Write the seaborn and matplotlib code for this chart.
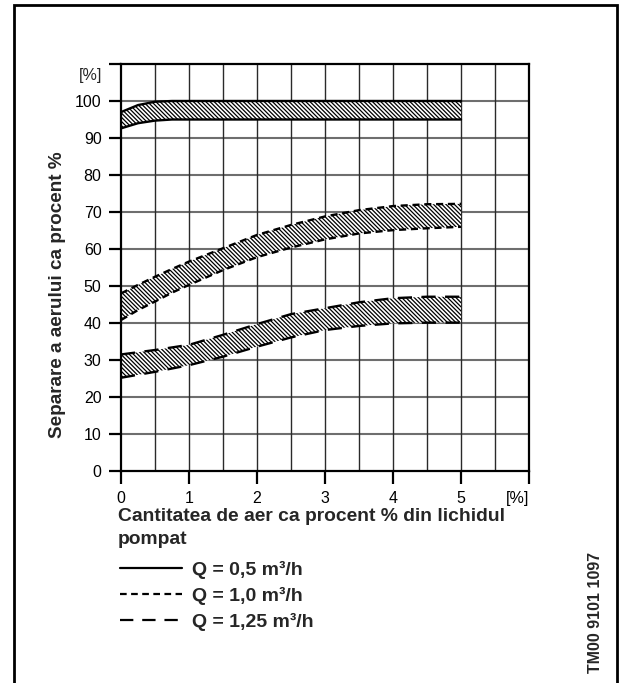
import matplotlib
matplotlib.use("Agg")
import matplotlib.pyplot as plt
import matplotlib.transforms as mtransforms
from matplotlib.lines import Line2D
from matplotlib.patches import Rectangle
import seaborn as sns
import pandas as pd

# ---- data ----
air_pct = [0, 0.25, 0.5, 0.75, 1.0, 1.5, 2.0, 2.5, 3.0, 3.5, 4.0, 4.5, 5.0]

q05_upper = [97.0, 98.9, 99.8, 100, 100, 100, 100, 100, 100, 100, 100, 100, 100]
q05_lower = [92.6, 94.0, 94.7, 95.0, 95, 95, 95, 95, 95, 95, 95, 95, 95]

q10_upper = [48.0, 50.3, 52.5, 54.6, 56.6, 60.2, 63.8, 66.5, 68.8, 70.5, 71.6, 72.1, 72.2]
q10_lower = [40.8, 43.5, 45.8, 48.2, 50.3, 54.3, 57.8, 60.4, 62.6, 64.2, 65.1, 65.6, 66.0]

q125_upper = [31.5, 32.1, 32.7, 33.4, 34.1, 36.8, 39.7, 42.4, 44.0, 45.6, 46.7, 47.1, 47.1]
q125_lower = [25.2, 26.0, 26.8, 27.7, 28.6, 30.9, 33.6, 36.1, 38.1, 39.2, 39.9, 40.1, 40.1]

series_labels = ["Q = 0,5 m³/h", "Q = 1,0 m³/h", "Q = 1,25 m³/h"]
x_tick_labels = ["0", "1", "2", "3", "4", "5", "[%]"]
y_tick_labels = ["0", "10", "20", "30", "40", "50", "60", "70", "80", "90", "100", ""]

xlabel_text = "Cantitatea de aer ca procent % din lichidul\npompat"
ylabel_text = "Separare a aerului ca procent %"
code_text = "TM00 9101 1097"

# ---- build long table ----
bands = [
    (series_labels[0], q05_upper, q05_lower),
    (series_labels[1], q10_upper, q10_lower),
    (series_labels[2], q125_upper, q125_lower),
]
rows = []
for label, up, lo in bands:
    for x, y in zip(air_pct, up):
        rows.append({"x": x, "y": y, "Q": label, "edge": label + " upper"})
    for x, y in zip(air_pct, lo):
        rows.append({"x": x, "y": y, "Q": label, "edge": label + " lower"})
df = pd.DataFrame(rows)

# ---- style ----
sns.set_style("white")
plt.rcParams["font.family"] = ["Liberation Sans", "DejaVu Sans"]
plt.rcParams["hatch.linewidth"] = 0.9
plt.rcParams["hatch.color"] = "black"

fig = plt.figure(figsize=(6.19, 6.83), dpi=100)
W, H = 619, 683
ax = fig.add_axes([121 / W, 1 - 471 / H, 408 / W, 407 / H])

dash_map = {
    series_labels[0]: "",
    series_labels[1]: (3.0, 2.0),
    series_labels[2]: (6.0, 4.0),
}

# hatched bands
for label, up, lo in bands:
    ax.fill_between(air_pct, lo, up, facecolor="white", edgecolor="black",
                    hatch="\\" * 8, linewidth=0, zorder=2)

sns.lineplot(data=df, x="x", y="y", style="Q", units="edge", estimator=None,
             dashes=dash_map, color="black", linewidth=1.7, legend=False,
             ax=ax, zorder=3)

# axes
ax.set_xlim(0, 6)
ax.set_ylim(0, 110)
ax.set_xticks(range(0, 7))
ax.set_xticklabels(x_tick_labels)
ax.set_xticks([0.5 * i for i in range(13)], minor=True)
ax.set_yticks(range(0, 111, 10))
ax.set_yticklabels(y_tick_labels)
xt = ax.get_xticklabels()
xt[-1].set_horizontalalignment("right")

ax.grid(False)
for yv in range(10, 110, 10):
    ax.axhline(yv, color="#6e6e6e", linewidth=1.5, zorder=1)
for i in range(1, 12):
    ax.axvline(0.5 * i, color="#2a2a2a", linewidth=1.0, zorder=1)

for s in ax.spines.values():
    s.set_color("black")
    s.set_linewidth(1.6)
    s.set_visible(True)

ax.tick_params(axis="both", which="major", direction="out", length=9, width=1.6,
               color="black", labelsize=11.5, labelcolor="black",
               bottom=True, left=True, top=False, right=False)
ax.tick_params(axis="y", pad=5)
ax.tick_params(axis="x", pad=5.5)
ax.tick_params(axis="both", which="minor", length=0)
ax.set_xlabel("")
ax.set_ylabel("")

trans = mtransforms.blended_transform_factory(ax.transAxes, ax.transData)
ax.text(-0.047, 107, "[%]", transform=trans, ha="right", va="center", fontsize=11.5)

# labels
fig.text(118 / W, 1 - 508 / H, xlabel_text, ha="left", va="top",
         fontsize=13.9, fontweight="bold", linespacing=1.5)
fig.text(57 / W, 1 - 295 / H, ylabel_text, rotation=90, ha="center", va="center",
         fontsize=13.6, fontweight="bold")
fig.text(595 / W, 1 - 612 / H, code_text, rotation=90, ha="center", va="center",
         fontsize=11.5, fontweight="bold")

# legend
handles = [Line2D([], [], color="black", linewidth=1.6, linestyle="-"),
           Line2D([], [], color="black", linewidth=1.6, linestyle=(0, (3.0, 2.0))),
           Line2D([], [], color="black", linewidth=1.6, linestyle=(0, (6.0, 4.0)))]
leg = fig.legend(handles, series_labels, loc="upper left",
                 bbox_to_anchor=(120 / W, 1 - 561 / H), frameon=False,
                 handlelength=3.2, handletextpad=0.5, labelspacing=0.4,
                 borderaxespad=0, borderpad=0,
                 prop={"size": 14, "weight": "bold", "family": ["Liberation Sans", "DejaVu Sans"]})

# frame around the whole drawing
fig.patches.append(Rectangle((14 / W, -0.05), (617 - 14) / W, (1.05 - 5 / H),
                             transform=fig.transFigure, fill=False,
                             edgecolor="black", linewidth=2.0))

fig.savefig("out.png", dpi=100)
